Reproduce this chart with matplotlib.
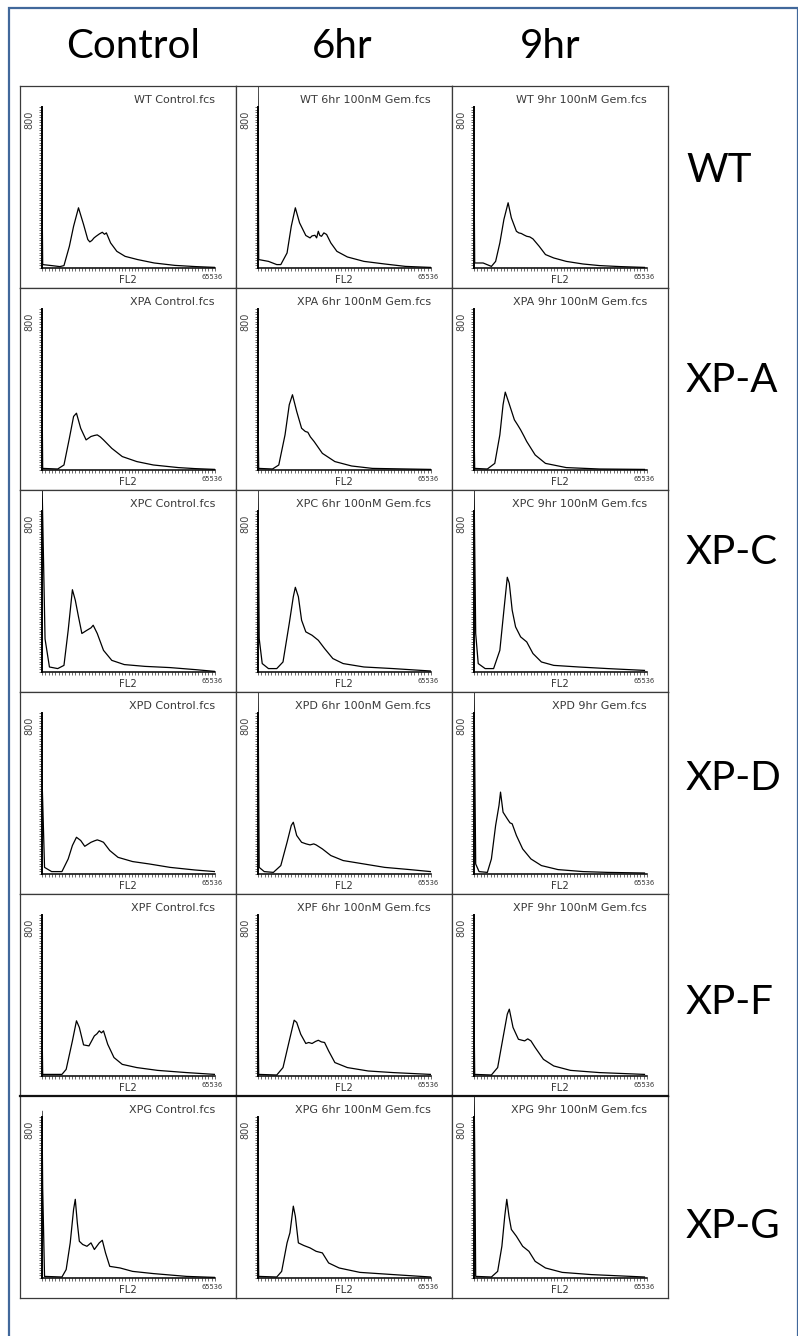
import matplotlib.pyplot as plt
import numpy as np
from matplotlib.patches import Rectangle

# flow cytometry DNA histograms, FL2 channel (0-1024) vs counts (0-800)
conditions = ["Control", "6hr", "9hr"]
cell_lines = ["WT", "XP-A", "XP-C", "XP-D", "XP-F", "XP-G"]
titles = [
    ["WT Control.fcs", "WT 6hr 100nM Gem.fcs", "WT 9hr 100nM Gem.fcs"],
    ["XPA Control.fcs", "XPA 6hr 100nM Gem.fcs", "XPA 9hr 100nM Gem.fcs"],
    ["XPC Control.fcs", "XPC 6hr 100nM Gem.fcs", "XPC 9hr 100nM Gem.fcs"],
    ["XPD Control.fcs", "XPD 6hr 100nM Gem.fcs", "XPD 9hr Gem.fcs"],
    ["XPF Control.fcs", "XPF 6hr 100nM Gem.fcs", "XPF 9hr 100nM Gem.fcs"],
    ["XPG Control.fcs", "XPG 6hr 100nM Gem.fcs", "XPG 9hr 100nM Gem.fcs"],
]

# ---- WT
wt_ctrl_x = [0, 4, 57, 106, 130, 162, 187, 216, 246, 271, 283, 295, 308, 320, 340, 357, 370, 381, 406, 443, 492, 566, 664, 787, 910, 1024]
wt_ctrl_y = [412, 17, 12, 7, 12, 108, 208, 300, 217, 142, 130, 137, 150, 158, 170, 178, 168, 175, 125, 83, 58, 42, 25, 13, 7, 3]
wt_6h_x = [0, 4, 62, 111, 135, 172, 197, 221, 246, 283, 308, 320, 337, 347, 357, 366, 376, 390, 406, 431, 467, 529, 627, 750, 873, 1021]
wt_6h_y = [950, 42, 33, 17, 17, 75, 208, 300, 225, 162, 150, 160, 163, 150, 183, 162, 158, 175, 167, 125, 83, 55, 33, 20, 8, 3]
wt_9h_x = [0, 4, 54, 103, 128, 153, 177, 202, 221, 251, 265, 280, 295, 312, 330, 349, 386, 423, 472, 546, 645, 743, 866, 1009]
wt_9h_y = [517, 25, 25, 8, 33, 125, 242, 325, 250, 183, 175, 172, 165, 158, 155, 145, 108, 67, 50, 33, 20, 12, 7, 3]

# ---- XP-A
xpa_ctrl_x = [0, 4, 93, 130, 162, 187, 204, 229, 261, 290, 310, 327, 345, 364, 413, 475, 561, 659, 807, 905, 1023]
xpa_ctrl_y = [408, 8, 5, 25, 158, 267, 283, 208, 150, 167, 172, 175, 165, 150, 108, 67, 42, 25, 12, 7, 3]
xpa_6h_x = [0, 4, 86, 123, 160, 185, 204, 229, 258, 280, 295, 310, 332, 381, 455, 554, 677, 1021]
xpa_6h_y = [290, 8, 5, 25, 175, 325, 375, 292, 208, 192, 188, 165, 142, 83, 42, 20, 8, 3]
xpa_9h_x = [0, 4, 79, 123, 153, 172, 185, 207, 239, 258, 276, 295, 312, 362, 423, 546, 743, 1009]
xpa_9h_y = [217, 8, 5, 33, 175, 325, 388, 333, 250, 225, 200, 170, 142, 75, 33, 12, 5, 3]

# ---- XP-C
xpc_ctrl_x = [0, 18, 44, 93, 130, 155, 180, 197, 216, 236, 266, 290, 303, 327, 364, 413, 487, 610, 758, 905, 1023]
xpc_ctrl_y = [950, 165, 25, 17, 33, 208, 410, 358, 275, 192, 208, 220, 233, 192, 108, 58, 37, 28, 22, 12, 3]
xpc_6h_x = [0, 7, 25, 62, 111, 148, 185, 209, 221, 239, 258, 283, 320, 357, 394, 443, 504, 627, 800, 1021]
xpc_6h_y = [950, 167, 42, 17, 17, 50, 242, 375, 422, 375, 258, 200, 183, 158, 117, 67, 42, 25, 17, 5]
xpc_9h_x = [0, 10, 25, 66, 116, 153, 177, 197, 209, 226, 246, 276, 312, 349, 399, 472, 620, 792, 1009]
xpc_9h_y = [950, 192, 42, 17, 17, 108, 308, 472, 442, 308, 225, 175, 150, 92, 50, 33, 25, 17, 8]

# ---- XP-D
xpd_ctrl_x = [0, 15, 57, 118, 155, 180, 204, 229, 253, 290, 310, 327, 345, 364, 401, 450, 536, 635, 758, 905, 1023]
xpd_ctrl_y = [483, 33, 12, 12, 75, 142, 183, 167, 138, 158, 165, 170, 165, 158, 117, 83, 62, 50, 33, 20, 12]
xpd_6h_x = [0, 7, 37, 91, 135, 172, 197, 209, 229, 258, 285, 308, 330, 344, 381, 431, 504, 627, 750, 898, 1021]
xpd_6h_y = [950, 33, 12, 8, 42, 158, 242, 258, 192, 158, 150, 145, 150, 145, 125, 92, 67, 50, 33, 22, 12]
xpd_9h_x = [0, 10, 30, 79, 103, 128, 148, 157, 172, 197, 213, 226, 251, 288, 337, 399, 497, 645, 792, 1009]
xpd_9h_y = [950, 50, 12, 8, 75, 242, 342, 408, 308, 275, 255, 250, 192, 125, 75, 42, 22, 12, 8, 5]

# ---- XP-F
xpf_ctrl_x = [0, 4, 118, 143, 180, 204, 221, 246, 278, 310, 325, 339, 352, 364, 389, 426, 475, 561, 684, 856, 1023]
xpf_ctrl_y = [267, 8, 8, 33, 175, 275, 242, 155, 150, 200, 210, 225, 215, 225, 158, 92, 58, 42, 28, 17, 8]
xpf_6h_x = [0, 4, 111, 148, 185, 214, 229, 253, 283, 300, 320, 340, 357, 375, 394, 418, 455, 529, 652, 800, 1021]
xpf_6h_y = [367, 8, 5, 42, 175, 278, 267, 208, 162, 167, 162, 172, 178, 170, 167, 125, 67, 42, 25, 17, 8]
xpf_9h_x = [0, 4, 103, 140, 172, 197, 209, 231, 263, 285, 300, 318, 337, 362, 411, 472, 571, 743, 1009]
xpf_9h_y = [342, 8, 5, 42, 192, 308, 333, 242, 183, 178, 175, 185, 175, 142, 83, 50, 28, 17, 8]

# ---- XP-G
xpg_ctrl_x = [0, 4, 15, 118, 143, 167, 187, 197, 209, 221, 241, 266, 290, 310, 339, 357, 376, 401, 462, 536, 659, 856, 1023]
xpg_ctrl_y = [830, 450, 8, 5, 42, 175, 342, 392, 275, 183, 167, 158, 175, 142, 175, 188, 125, 58, 50, 33, 22, 8, 3]
xpg_6h_x = [0, 4, 111, 140, 172, 189, 209, 221, 239, 271, 308, 344, 381, 418, 480, 603, 800, 1021]
xpg_6h_y = [440, 8, 5, 33, 175, 225, 358, 308, 175, 162, 150, 133, 125, 75, 50, 28, 17, 5]
xpg_9h_x = [0, 4, 10, 103, 140, 165, 182, 194, 207, 221, 251, 288, 325, 362, 423, 522, 694, 1009]
xpg_9h_y = [950, 660, 8, 5, 33, 158, 308, 392, 308, 242, 208, 158, 133, 83, 50, 28, 17, 5]

hist_x = [
    [wt_ctrl_x, wt_6h_x, wt_9h_x],
    [xpa_ctrl_x, xpa_6h_x, xpa_9h_x],
    [xpc_ctrl_x, xpc_6h_x, xpc_9h_x],
    [xpd_ctrl_x, xpd_6h_x, xpd_9h_x],
    [xpf_ctrl_x, xpf_6h_x, xpf_9h_x],
    [xpg_ctrl_x, xpg_6h_x, xpg_9h_x],
]
hist_y = [
    [wt_ctrl_y, wt_6h_y, wt_9h_y],
    [xpa_ctrl_y, xpa_6h_y, xpa_9h_y],
    [xpc_ctrl_y, xpc_6h_y, xpc_9h_y],
    [xpd_ctrl_y, xpd_6h_y, xpd_9h_y],
    [xpf_ctrl_y, xpf_6h_y, xpf_9h_y],
    [xpg_ctrl_y, xpg_6h_y, xpg_9h_y],
]

W, H = 798, 1336
fig = plt.figure(figsize=(W / 100, H / 100), dpi=100)
fig.patch.set_facecolor("white")


def px_rect(left, top, w, h):
    # pixel box (from top-left) -> figure fraction
    return [left / W, 1 - (top + h) / H, w / W, h / H]


# outer blue frame
fig.patches.append(Rectangle((9 / W, -0.01), (W - 9) / W, 1.01 - 8 / H,
                             transform=fig.transFigure, fill=False,
                             edgecolor="#41689b", linewidth=1.6))

cell_w, cell_h = 216, 202
grid_left, grid_top = 20, 86
ymax = 800 * 182 / 161

for r in range(6):
    for c in range(3):
        cl = grid_left + cell_w * c
        ct = grid_top + cell_h * r

        frame = fig.add_axes(px_rect(cl, ct, cell_w, cell_h))
        frame.set_xticks([])
        frame.set_yticks([])
        for s in frame.spines.values():
            s.set_color("#3a3a3a")
            s.set_linewidth(0.9)
        if r == 5:
            frame.spines["top"].set_linewidth(1.6)
            frame.spines["top"].set_color("#111111")
        frame.text(195 / cell_w, 1 - 14 / cell_h, titles[r][c], ha="right", va="center",
                   fontsize=8.0, color="#3a3a3a", transform=frame.transAxes)
        frame.text(9 / cell_w, 1 - 34 / cell_h, "800", rotation=90, ha="center", va="center",
                   fontsize=7.0, color="#444444", transform=frame.transAxes)
        frame.text(108 / cell_w, 1 - 194 / cell_h, "FL2", ha="center", va="center",
                   fontsize=7.3, color="#333333", transform=frame.transAxes)
        frame.text(192 / cell_w, 1 - 191 / cell_h, "65536", ha="center", va="center",
                   fontsize=4.8, color="#333333", transform=frame.transAxes)

        ax = fig.add_axes(px_rect(cl + 22, ct + 0.5, 173, 181.5))
        ax.set_facecolor("none")
        ax.plot(hist_x[r][c], hist_y[r][c], color="black", linewidth=0.9)
        ax.set_xlim(0, 1024)
        ax.set_ylim(0, ymax)
        ax.spines["top"].set_visible(False)
        ax.spines["right"].set_visible(False)
        ax.spines["left"].set_bounds(0, 800)
        ax.spines["left"].set_linewidth(1.4)
        ax.spines["bottom"].set_linewidth(1.1)
        ax.set_xticks(np.linspace(0, 1024, 53))
        ax.set_yticks(np.linspace(0, 800, 65))
        ax.set_xticklabels([])
        ax.set_yticklabels([])
        ax.tick_params(direction="out", length=2.4, width=0.6, color="#555555")

# column and row headings
head_font = "Lato"
for x, name in zip([133, 342, 550], conditions):
    fig.text(x / W, 1 - 47 / H, name, ha="center", va="center", fontsize=29,
             family=head_font)
for y, name in zip([170, 380, 552, 778, 1003, 1226], cell_lines):
    fig.text(686 / W, 1 - y / H, name, ha="left", va="center", fontsize=29,
             family=head_font)

fig.savefig("out.png", dpi=100)
